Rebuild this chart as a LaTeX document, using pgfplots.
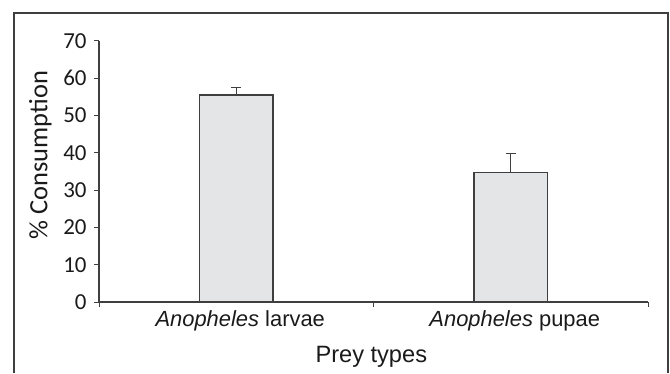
\documentclass[border=0pt]{standalone}
\usepackage{pgfplots}
\pgfplotsset{compat=1.18}
\usepackage{fontspec}
\setmainfont{Liberation Sans}
\newfontfamily\carlito{Carlito}
\definecolor{edge}{HTML}{3F3F3F}
\definecolor{barfill}{HTML}{E4E5E7}
\definecolor{txt}{HTML}{1A1A1A}
\begin{document}
\begin{tikzpicture}[x=1bp,y=1bp]
\path (0,0) rectangle (670,373);
\draw[edge, line width=1.3bp] (14,0) -- (14,360) -- (668,360) -- (668,0);
\begin{axis}[
  at={(99bp,71bp)}, anchor=south west,
  scale only axis, width=549bp, height=261bp,
  xmin=-0.5, xmax=1.5, ymin=0, ymax=70,
  axis x line*=bottom, axis y line*=left,
  xtick={0,1},
  xticklabels={\textit{Anopheles} larvae, \textit{Anopheles} pupae},
  minor xtick={-0.5,0.5,1.5},
  ytick={0,10,...,70},
  tick align=outside,
  major tick length=5bp, minor tick length=5bp,
  every tick/.style={edge, line width=1bp},
  major x tick style={draw=none},
  axis line style={edge, line width=1.3bp},
  /pgf/number format/assume math mode=true,
  y tick label style={font=\carlito\fontsize{23}{26}\selectfont, text=txt, xshift=-4bp},
  x tick label style={font=\fontsize{22}{25}\selectfont, text=txt, xshift=4bp},
  ylabel={\% Consumption},
  ylabel style={font=\carlito\fontsize{26.5}{30}\selectfont, text=txt, at={(axis description cs:-0.1066,0.563)}, anchor=center},
  xlabel={Prey types},
  xlabel style={font=\fontsize{23.7}{28}\selectfont, text=txt, at={(axis description cs:0.496,-0.21)}, anchor=center},
]
\addplot[ybar, bar width=0.267, fill=barfill, draw=edge, line width=1.3bp,
  error bars/.cd, y dir=plus, y explicit,
  error bar style={edge, line width=1.1bp},
  error mark options={edge, rotate=90, mark size=5bp, line width=1.1bp}]
  coordinates {(0,55.5) +- (0,2.0) (1,34.8) +- (0,5.1)};
\end{axis}
\end{tikzpicture}
\end{document}
